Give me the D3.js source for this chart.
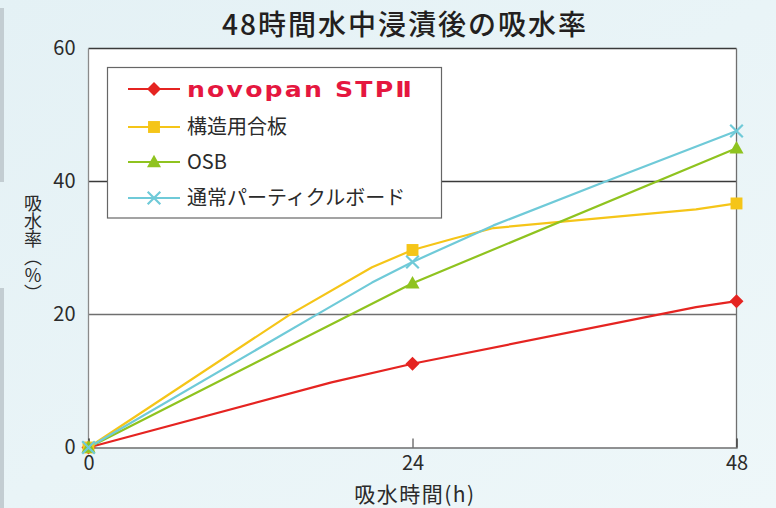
<!DOCTYPE html>
<html><head><meta charset="utf-8">
<script src="https://cdn.jsdelivr.net/npm/d3@7"></script>
<style>
html,body{margin:0;padding:0;background:#eaf5f8;}
svg{display:block;font-family:"Noto Sans CJK JP","Noto Sans",sans-serif;}
</style></head>
<body>
<svg id="c" width="776" height="508"></svg>
<script>
// ---- data ----
const title = "48時間水中浸漬後の吸水率";
const xTicks = [0, 24, 48];
const yTicks = [0, 20, 40, 60];
const seriesNames = ["novopan STPⅡ", "構造用合板", "OSB", "通常パーティクルボード"];
// line vertices [hour, %]; markers only at measured hours
const novopanLine = [[0,0],[18,9.8],[24,12.6],[45,21.1],[48,22.0]];
const plywoodLine = [[0,0],[15,20.1],[21,27.1],[24,29.7],[27,31.4],[30,33.0],[45,35.8],[48,36.7]];
const osbLine     = [[0,0],[24,24.7],[48,45.0]];
const particleLine= [[0,0],[17,20.1],[21,24.8],[24,27.9],[30,33.4],[38.3,40.0],[48,47.6]];
const markerHours = [0, 24, 48];

const colors = ["#e52421","#f5c518","#8fc31f","#6fcad8"];
const shapes = ["diamond","square","triangle","cross"];
const lines = [novopanLine, plywoodLine, osbLine, particleLine];

const svg = d3.select("#c");
const W = 776, H = 508;
const defs = svg.append("defs");
const g = defs.append("linearGradient").attr("id","bg").attr("x1","0").attr("y1","0").attr("x2","1").attr("y2","1");
g.append("stop").attr("offset","0").attr("stop-color","#e4f1f5");
g.append("stop").attr("offset","1").attr("stop-color","#eef7f9");
svg.append("rect").attr("width",W).attr("height",H).attr("fill","url(#bg)");
// left edge strip
svg.append("rect").attr("x",0).attr("y",8).attr("width",4).attr("height",174).attr("fill","#c3cdd2");
svg.append("rect").attr("x",0).attr("y",288).attr("width",4).attr("height",220).attr("fill","#c3cdd2");

const x = d3.scaleLinear().domain([0,48]).range([88.5,736.5]);
const y = d3.scaleLinear().domain([0,60]).range([447.5,48.5]);

// plot area
svg.append("rect").attr("x",x(0)).attr("y",y(60)).attr("width",x(48)-x(0)).attr("height",y(0)-y(60))
  .attr("fill","#fff");

// gridlines
svg.append("g").selectAll("line").data([20,40]).join("line")
  .attr("x1",x(0)).attr("x2",x(48)).attr("y1",d=>y(d)).attr("y2",d=>y(d))
  .attr("stroke",d=>d===40?"#3a3a3a":"#6f6f6f").attr("stroke-width",1.3);

// borders
svg.append("line").attr("x1",x(0)).attr("x2",x(48)).attr("y1",y(60)).attr("y2",y(60)).attr("stroke","#3a3a3a").attr("stroke-width",1.3);
svg.append("line").attr("x1",x(0)).attr("x2",x(0)).attr("y1",y(60)).attr("y2",y(0)).attr("stroke","#8a8a8a").attr("stroke-width",1.3);
svg.append("line").attr("x1",x(48)).attr("x2",x(48)).attr("y1",y(60)).attr("y2",y(0)).attr("stroke","#6f6f6f").attr("stroke-width",1.3);

// x axis
const xAxis = d3.axisBottom(x).tickValues(xTicks).tickSize(-9).tickPadding(18).tickFormat(d3.format("d"));
const gx = svg.append("g").attr("transform",`translate(0,${y(0)})`).call(xAxis);
gx.select(".domain").attr("stroke","#6f6f6f").attr("stroke-width",1.3);
gx.selectAll(".tick line").attr("stroke","#333").attr("stroke-width",1);
gx.selectAll(".tick text").attr("font-size",20).attr("fill","#2b2b2b").attr("font-family","Noto Sans CJK JP").attr("dy","0.2em");

// y axis labels
const yAxis = d3.axisLeft(y).tickValues(yTicks).tickSize(0).tickPadding(13).tickFormat(d3.format("d"));
const gy = svg.append("g").attr("transform",`translate(${x(0)},0)`).call(yAxis);
gy.select(".domain").remove();
gy.selectAll(".tick text").attr("font-size",20).attr("fill","#2b2b2b").attr("font-family","Noto Sans CJK JP");

// title
svg.append("text").attr("x",405).attr("y",35).attr("text-anchor","middle")
  .attr("font-size",28).attr("font-weight",500).attr("fill","#231f20").attr("letter-spacing",2).text(title);

// x axis title
svg.append("text").attr("x",415).attr("y",502).attr("text-anchor","middle")
  .attr("font-size",21).attr("fill","#2b2b2b").attr("letter-spacing",1.5).text("吸水時間(h)");

// y axis title (vertical)
svg.append("text").attr("x",33).attr("y",194)
  .style("writing-mode","vertical-rl").style("text-orientation","mixed")
  .attr("font-size",18).attr("fill","#2b2b2b").text("吸水率（％）");

// marker
function marker(sel, shape, color, cx, cy, s){
  if(shape==="diamond"){
    sel.append("path").attr("d",`M${cx},${cy-s}L${cx+s},${cy}L${cx},${cy+s}L${cx-s},${cy}Z`).attr("fill",color);
  } else if(shape==="square"){
    sel.append("rect").attr("x",cx-s*0.85).attr("y",cy-s*0.85).attr("width",s*1.7).attr("height",s*1.7).attr("fill",color);
  } else if(shape==="triangle"){
    sel.append("path").attr("d",`M${cx},${cy-s*1.05}L${cx+s},${cy+s*0.75}L${cx-s},${cy+s*0.75}Z`).attr("fill",color);
  } else {
    const r=s*0.9;
    sel.append("path").attr("d",`M${cx-r},${cy-r}L${cx+r},${cy+r}M${cx+r},${cy-r}L${cx-r},${cy+r}`)
      .attr("stroke",color).attr("stroke-width",2.2).attr("fill","none");
  }
}

const lineGen = d3.line().x(d=>x(d[0])).y(d=>y(d[1]));
const plot = svg.append("g");
lines.forEach((ln,i)=>{
  plot.append("path").datum(ln).attr("d",lineGen).attr("fill","none")
    .attr("stroke",colors[i]).attr("stroke-width",2.2).attr("stroke-linejoin","round");
});
lines.forEach((ln,i)=>{
  markerHours.forEach(h=>{
    const p = ln.find(d=>d[0]===h);
    marker(plot, shapes[i], colors[i], x(p[0]), y(p[1]), 7);
  });
});

// legend
const lg = svg.append("g");
lg.append("rect").attr("x",107.5).attr("y",67.5).attr("width",334).attr("height",150.5)
  .attr("fill","#fff").attr("stroke","#666").attr("stroke-width",1.2);
const rowY = [89, 127, 162, 198];
seriesNames.forEach((nm,i)=>{
  lg.append("line").attr("x1",128).attr("x2",180).attr("y1",rowY[i]).attr("y2",rowY[i])
    .attr("stroke",colors[i]).attr("stroke-width",2.2);
  marker(lg, shapes[i], colors[i], 154, rowY[i], 7);
  if(i===0){
    lg.append("text").attr("transform",`translate(187,${rowY[i]}) scale(1.2,1)`).attr("dy","0.36em")
      .attr("fill","#e5173f").attr("font-family","'DejaVu Sans', sans-serif").attr("font-weight",700)
      .attr("font-size",21).attr("letter-spacing",1.8).text(nm);
  } else {
    lg.append("text").attr("x",187).attr("y",rowY[i]).attr("dy","0.36em")
      .attr("fill","#2b2b2b").attr("font-size",20).text(nm);
  }
});
</script>
</body></html>
